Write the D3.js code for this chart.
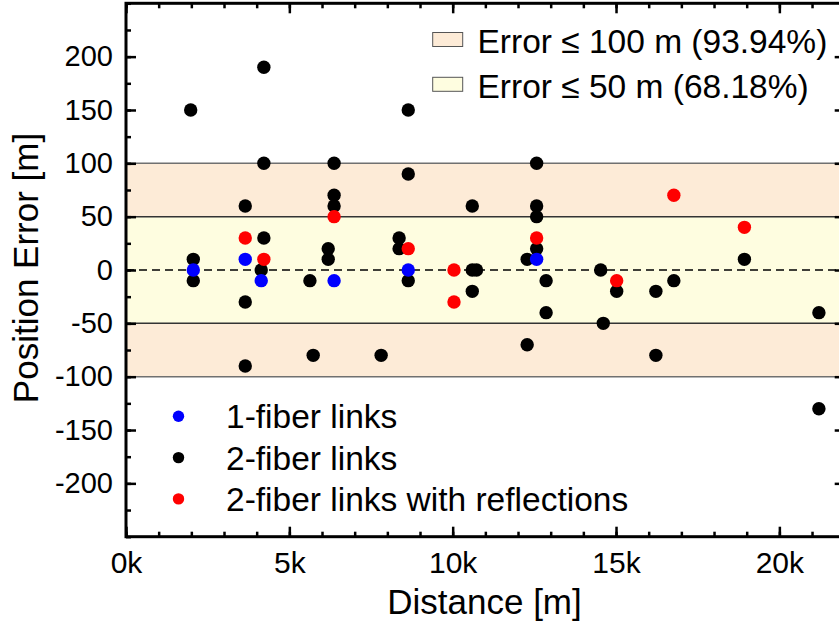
<!DOCTYPE html>
<html>
<head>
<meta charset="utf-8">
<script src="https://cdn.jsdelivr.net/npm/d3@7"></script>
<style>
  body { margin: 0; background: #fff; }
  svg { display: block; }
  text { font-family: "Liberation Sans", Arial, sans-serif; fill: #000; }
</style>
</head>
<body>
<svg id="chart" width="839" height="624"></svg>
<script>
// Distance along the link [m] and position error [m] for each measured fault
const oneFiberDist = [2060, 3650, 4140, 6370, 8640, 12570];
const oneFiberErr  = [0, 10, -10, -10, 0, 10];

const twoFiberDist = [1980, 2060, 2060, 3650, 3650, 3650, 4220, 4220, 4220, 4140,
                      5630, 5730, 6190, 6190, 6370, 6370, 6370, 7810, 8360, 8360,
                      8640, 8640, 8640, 10600, 10600, 10730, 10600, 12280, 12280, 12570,
                      12570, 12570, 12570, 12860, 12860, 14530, 14610, 15020, 16220, 16220,
                      16770, 18930, 21210, 21210];
const twoFiberErr  = [150, 10, -10, 60, -30, -90, 190, 100, 30, 0,
                      -10, -80, 20, 10, 100, 70, 60, -80, 30, 20,
                      150, 90, -10, 60, 0, 0, -20, 10, -70, 100,
                      60, 50, 20, -10, -40, 0, -50, -20, -20, -80,
                      -10, 10, -40, -130];

const reflDist = [3650, 4220, 6370, 8640, 10040, 10040, 12570, 15020, 16770, 18930];
const reflErr  = [30, 10, 50, 20, 0, -30, 30, -10, 70, 40];

const seriesNames  = ["1-fiber links", "2-fiber links", "2-fiber links with reflections"];
const seriesColors = ["#0000ff", "#000000", "#ff0000"];

const bandNames = ["Error \u2264 100 m (93.94%)", "Error \u2264 50 m (68.18%)"];
const bandColors = ["#fdebd7", "#fefde0"];

const xTickValues = [0, 5000, 10000, 15000, 20000];
const xTickLabels = ["0k", "5k", "10k", "15k", "20k"];
const xMinorValues = d3.range(0, 22001, 1000);
const yTickValues = [-200, -150, -100, -50, 0, 50, 100, 150, 200];
const yMinorValues = d3.range(-250, 251, 25);

const svg = d3.select("#chart");
const plotLeft = 126, plotRight = 844.7, plotTop = 3.3, plotBottom = 536.7;

const x = d3.scaleLinear().domain([0, 22000]).range([plotLeft, plotRight]);
const y = d3.scaleLinear().domain([-250, 250]).range([plotBottom, plotTop]);

// accuracy bands
const bands = svg.append("g");
bands.append("rect").attr("x", plotLeft).attr("width", plotRight - plotLeft)
  .attr("y", y(100)).attr("height", y(-100) - y(100)).attr("fill", bandColors[0]);
bands.append("rect").attr("x", plotLeft).attr("width", plotRight - plotLeft)
  .attr("y", y(50)).attr("height", y(-50) - y(50)).attr("fill", bandColors[1]);
[100, 50, -50, -100].forEach(v => {
  bands.append("line").attr("x1", plotLeft).attr("x2", plotRight)
    .attr("y1", y(v)).attr("y2", y(v))
    .attr("stroke", Math.abs(v) === 100 ? "#707070" : "#333").attr("stroke-width", 1.5);
});
// zero reference
bands.append("line").attr("x1", plotLeft).attr("x2", plotRight)
  .attr("y1", y(0)).attr("y2", y(0))
  .attr("stroke", "#000").attr("stroke-width", 1.5).attr("stroke-dasharray", "8,5");

// axes: major and minor ticks pointing inward on all four sides
function styleAxis(g, fontSize) {
  g.select(".domain").remove();
  g.selectAll(".tick line").attr("stroke", "#000").attr("stroke-width", 2.5);
  g.selectAll(".tick text").style("font-size", fontSize + "px")
    .style("font-family", "'Liberation Sans', Arial, sans-serif");
}
const xLabel = d => xTickLabels[xTickValues.indexOf(d)];
const yLabel = d => String(d);

svg.append("g").attr("transform", `translate(0,${plotBottom})`)
  .call(d3.axisBottom(x).tickValues(xMinorValues).tickFormat("").tickSize(-5))
  .call(g => styleAxis(g, 30));
svg.append("g").attr("transform", `translate(0,${plotBottom})`)
  .call(d3.axisBottom(x).tickValues(xTickValues).tickFormat(xLabel).tickSize(-10).tickPadding(15))
  .call(g => styleAxis(g, 30));
svg.append("g").attr("transform", `translate(0,${plotTop})`)
  .call(d3.axisTop(x).tickValues(xMinorValues).tickFormat("").tickSize(-5))
  .call(g => styleAxis(g, 30));
svg.append("g").attr("transform", `translate(0,${plotTop})`)
  .call(d3.axisTop(x).tickValues(xTickValues).tickFormat("").tickSize(-10))
  .call(g => styleAxis(g, 30));

svg.append("g").attr("transform", `translate(${plotLeft},0)`)
  .call(d3.axisLeft(y).tickValues(yMinorValues).tickFormat("").tickSize(-5))
  .call(g => styleAxis(g, 29));
svg.append("g").attr("transform", `translate(${plotLeft},0)`)
  .call(d3.axisLeft(y).tickValues(yTickValues).tickFormat(yLabel).tickSize(-10).tickPadding(13))
  .call(g => styleAxis(g, 29));
svg.append("g").attr("transform", `translate(${plotRight},0)`)
  .call(d3.axisRight(y).tickValues(yMinorValues).tickFormat("").tickSize(-5))
  .call(g => styleAxis(g, 29));
svg.append("g").attr("transform", `translate(${plotRight},0)`)
  .call(d3.axisRight(y).tickValues(yTickValues).tickFormat("").tickSize(-10))
  .call(g => styleAxis(g, 29));

// frame
svg.append("rect").attr("x", plotLeft).attr("y", plotTop)
  .attr("width", plotRight - plotLeft).attr("height", plotBottom - plotTop)
  .attr("fill", "none").attr("stroke", "#000").attr("stroke-width", 3);

// data points: 2-fiber first, then reflections, then 1-fiber on top
const series = [
  { dist: twoFiberDist, err: twoFiberErr, color: seriesColors[1] },
  { dist: reflDist, err: reflErr, color: seriesColors[2] },
  { dist: oneFiberDist, err: oneFiberErr, color: seriesColors[0] }
];
series.forEach(s => {
  svg.append("g").selectAll("circle")
    .data(s.dist.map((d, i) => [d, s.err[i]]))
    .join("circle")
    .attr("cx", d => x(d[0])).attr("cy", d => y(d[1]))
    .attr("r", 6.7).attr("fill", s.color);
});

// band legend (top right)
const bandLegend = svg.append("g");
bandNames.forEach((name, i) => {
  const cy = 39.5 + i * 44.8;
  bandLegend.append("rect").attr("x", 432.7).attr("y", cy - 7).attr("width", 30).attr("height", 14)
    .attr("fill", bandColors[i]).attr("stroke", "#555").attr("stroke-width", 1);
  bandLegend.append("text").attr("x", 477.5).attr("y", cy + 13.3)
    .style("font-size", "33.5px").text(name);
});

// series legend (bottom left)
const seriesLegend = svg.append("g");
seriesNames.forEach((name, i) => {
  const cy = 416.3 + i * 41.3;
  seriesLegend.append("circle").attr("cx", 178.5).attr("cy", cy).attr("r", 5.7)
    .attr("fill", seriesColors[i]);
  seriesLegend.append("text").attr("x", 226).attr("y", cy + 12)
    .style("font-size", "33.5px").text(name);
});

// axis titles
svg.append("text").attr("x", 484.5).attr("y", 614)
  .attr("text-anchor", "middle").style("font-size", "35px").text("Distance [m]");
svg.append("text").attr("transform", "translate(37.5,268) rotate(-90)")
  .attr("text-anchor", "middle").style("font-size", "35px").text("Position Error [m]");
</script>
</body>
</html>
